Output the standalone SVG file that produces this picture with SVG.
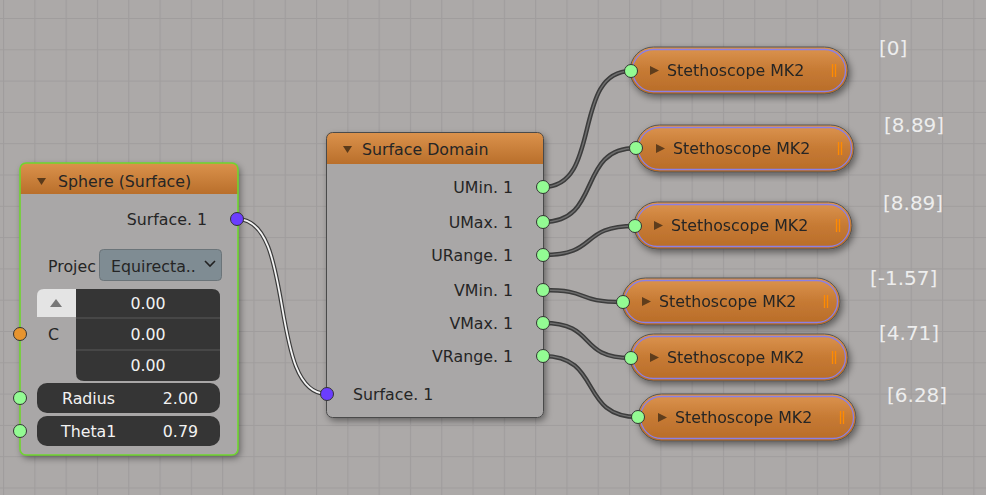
<svg xmlns="http://www.w3.org/2000/svg" width="986" height="495" viewBox="0 0 986 495">
<defs>
<pattern id="grid" patternUnits="userSpaceOnUse" x="3" y="18" width="31.3" height="31.3">
<rect width="31.3" height="31.3" fill="#aca9a8"/>
<path d="M0.5,0 V31.3 M0,0.5 H31.3" stroke="#a09d9d" stroke-width="1.2" fill="none"/>
</pattern>
<linearGradient id="hdr" x1="0" y1="0" x2="0" y2="1">
<stop offset="0" stop-color="#db924c"/>
<stop offset="1" stop-color="#b96f2b"/>
</linearGradient>
<linearGradient id="pill" x1="0" y1="0" x2="0" y2="1">
<stop offset="0" stop-color="#dc944f"/>
<stop offset="0.5" stop-color="#c67a34"/>
<stop offset="1" stop-color="#b86c28"/>
</linearGradient>
<filter id="shadow" x="-10%" y="-10%" width="125%" height="130%">
<feDropShadow dx="2" dy="3" stdDeviation="3.5" flood-color="#000" flood-opacity="0.45"/>
</filter>
<g id="steth">
<rect x="0" y="0" width="218" height="47" rx="23.5" fill="url(#pill)" stroke="#555" stroke-width="1"/>
<rect x="2.5" y="2.5" width="213" height="42" rx="21" fill="none" stroke="#8a80e6" stroke-width="1.3"/>
<polygon points="20,19 29,23.5 20,28" fill="#5e3c1c"/>
<text x="37" y="29" class="t">Stethoscope MK2</text>
<path d="M202.5,17 V30 M205.5,17 V30" stroke="#ff8a00" stroke-width="1.3"/>
</g>
</defs>
<style>
.t{font-family:"DejaVu Sans","Liberation Sans",sans-serif;font-size:15.8px;fill:#252525}
.w{font-family:"DejaVu Sans","Liberation Sans",sans-serif;font-size:15.8px;fill:#f2f2f2}
.lbl{font-family:"DejaVu Sans","Liberation Sans",sans-serif;font-size:20px;fill:#ededed}
.r{text-anchor:end}
.m{text-anchor:middle}
.wire-o{fill:none;stroke:#3c3c3c;stroke-width:4.5}
.wire-i{fill:none;stroke:#6e6e6e;stroke-width:1.4}
.sel-o{fill:none;stroke:#3a3a3a;stroke-width:4.2}
.sel-i{fill:none;stroke:#f4f4f4;stroke-width:1.8}
.sg{fill:#93fb93;stroke:#333;stroke-width:1}
.sp{fill:#6b3dff;stroke:#333;stroke-width:1}
.so{fill:#e7942f;stroke:#333;stroke-width:1}
.body{fill:#a9a7a7}
.dark{fill:#353535}
</style>
<rect width="986" height="495" fill="url(#grid)"/>

<g id="connectors">
<path class="sel-o" d="M237,219 C297,219 267,394 327,394"/>
<path class="sel-i" d="M237,219 C297,219 267,394 327,394"/>
<path class="wire-o" d="M543,187 C603,187 571,71 631,71"/>
<path class="wire-i" d="M543,187 C603,187 571,71 631,71"/>
<path class="wire-o" d="M543,222 C603,222 576,148 636,148"/>
<path class="wire-i" d="M543,222 C603,222 576,148 636,148"/>
<path class="wire-o" d="M543,255 C600,255 578,226 635,226"/>
<path class="wire-i" d="M543,255 C600,255 578,226 635,226"/>
<path class="wire-o" d="M543,290 C593,290 573,302 623,302"/>
<path class="wire-i" d="M543,290 C593,290 573,302 623,302"/>
<path class="wire-o" d="M543,323 C598,323 576,358 631,358"/>
<path class="wire-i" d="M543,323 C598,323 576,358 631,358"/>
<path class="wire-o" d="M543,356 C603,356 578,417 638,417"/>
<path class="wire-i" d="M543,356 C603,356 578,417 638,417"/>
</g>

<g id="sphere">
<g filter="url(#shadow)">
<rect x="20" y="163" width="218" height="292" rx="6" class="body"/>
</g>
<path d="M20,194 V169 Q20,163 26,163 H232 Q238,163 238,169 V194 Z" fill="url(#hdr)"/>
<rect x="20" y="163" width="218" height="292" rx="6" fill="none" stroke="#6fd62e" stroke-width="1.6"/>
<polygon points="37,178 46,178 41.5,185" fill="#5a3a1a"/>
<text x="58" y="187" class="t">Sphere (Surface)</text>
<text x="207" y="225" class="t r">Surface. 1</text>
<text x="48" y="272" class="t">Projec</text>
<rect x="99.5" y="249.5" width="122" height="31" rx="4" fill="#7f8c93" stroke="#6b7479"/>
<text x="111" y="272" class="t" fill="#111">Equirecta..</text>
<polyline points="205,261 210,266 215,261" fill="none" stroke="#222" stroke-width="1.6"/>
<path d="M37,317 V296 Q37,289 44,289 H76 V317 Z" fill="#e4e4e4"/>
<polygon points="50,307 62,307 56,299" fill="#777"/>
<path d="M76,289 H212 Q220,289 220,297 V373 Q220,381 212,381 H84 Q76,381 76,373 Z" class="dark"/>
<path d="M76,318 H220 M76,350 H220" stroke="#5a5a5a" stroke-width="1"/>
<text x="148" y="309" class="w m">0.00</text>
<text x="148" y="340" class="w m">0.00</text>
<text x="148" y="371" class="w m">0.00</text>
<text x="48" y="340" class="t">C</text>
<rect x="37" y="383" width="183" height="30" rx="10" class="dark"/>
<text x="62" y="404" class="w">Radius</text>
<text x="198" y="404" class="w r">2.00</text>
<rect x="37" y="416" width="183" height="30" rx="10" class="dark"/>
<text x="61" y="437" class="w">Theta1</text>
<text x="198" y="437" class="w r">0.79</text>
<circle cx="237" cy="219" r="6.5" class="sp"/>
<circle cx="20" cy="334" r="6.5" class="so"/>
<circle cx="20" cy="398" r="6.5" class="sg"/>
<circle cx="20" cy="431" r="6.5" class="sg"/>
</g>

<g id="surface-domain">
<g filter="url(#shadow)">
<rect x="326.5" y="132.5" width="217" height="285" rx="6" class="body"/>
</g>
<path d="M326.5,164 V138.5 Q326.5,132.5 332.5,132.5 H537.5 Q543.5,132.5 543.5,138.5 V164 Z" fill="url(#hdr)"/>
<rect x="326.5" y="132.5" width="217" height="285" rx="6" fill="none" stroke="#4a4a4a" stroke-width="1"/>
<polygon points="343,146 352,146 347.5,153" fill="#5a3a1a"/>
<text x="362" y="155" class="t">Surface Domain</text>
<text x="513" y="193" class="t r">UMin. 1</text>
<text x="513" y="228" class="t r">UMax. 1</text>
<text x="513" y="261" class="t r">URange. 1</text>
<text x="513" y="296" class="t r">VMin. 1</text>
<text x="513" y="329" class="t r">VMax. 1</text>
<text x="513" y="362" class="t r">VRange. 1</text>
<text x="353" y="400" class="t">Surface. 1</text>
<circle cx="543" cy="187" r="6.5" class="sg"/>
<circle cx="543" cy="222" r="6.5" class="sg"/>
<circle cx="543" cy="255" r="6.5" class="sg"/>
<circle cx="543" cy="290" r="6.5" class="sg"/>
<circle cx="543" cy="323" r="6.5" class="sg"/>
<circle cx="543" cy="356" r="6.5" class="sg"/>
<circle cx="327" cy="394" r="6.5" class="sp"/>
</g>

<g id="steth1">
<use href="#steth" x="630" y="47" filter="url(#shadow)"/>
<circle cx="631" cy="71" r="6.5" class="sg"/>
<text x="879" y="55" class="lbl">[0]</text>
</g>
<g id="steth2">
<use href="#steth" x="636" y="125" filter="url(#shadow)"/>
<circle cx="636" cy="148" r="6.5" class="sg"/>
<text x="884" y="132" class="lbl">[8.89]</text>
</g>
<g id="steth3">
<use href="#steth" x="634" y="202" filter="url(#shadow)"/>
<circle cx="635" cy="226" r="6.5" class="sg"/>
<text x="883" y="210" class="lbl">[8.89]</text>
</g>
<g id="steth4">
<use href="#steth" x="622" y="278" filter="url(#shadow)"/>
<circle cx="623" cy="302" r="6.5" class="sg"/>
<text x="870" y="285" class="lbl">[-1.57]</text>
</g>
<g id="steth5">
<use href="#steth" x="630" y="334" filter="url(#shadow)"/>
<circle cx="631" cy="358" r="6.5" class="sg"/>
<text x="879" y="340" class="lbl">[4.71]</text>
</g>
<g id="steth6">
<use href="#steth" x="638" y="394" filter="url(#shadow)"/>
<circle cx="638" cy="417" r="6.5" class="sg"/>
<text x="887" y="402" class="lbl">[6.28]</text>
</g>
</svg>
